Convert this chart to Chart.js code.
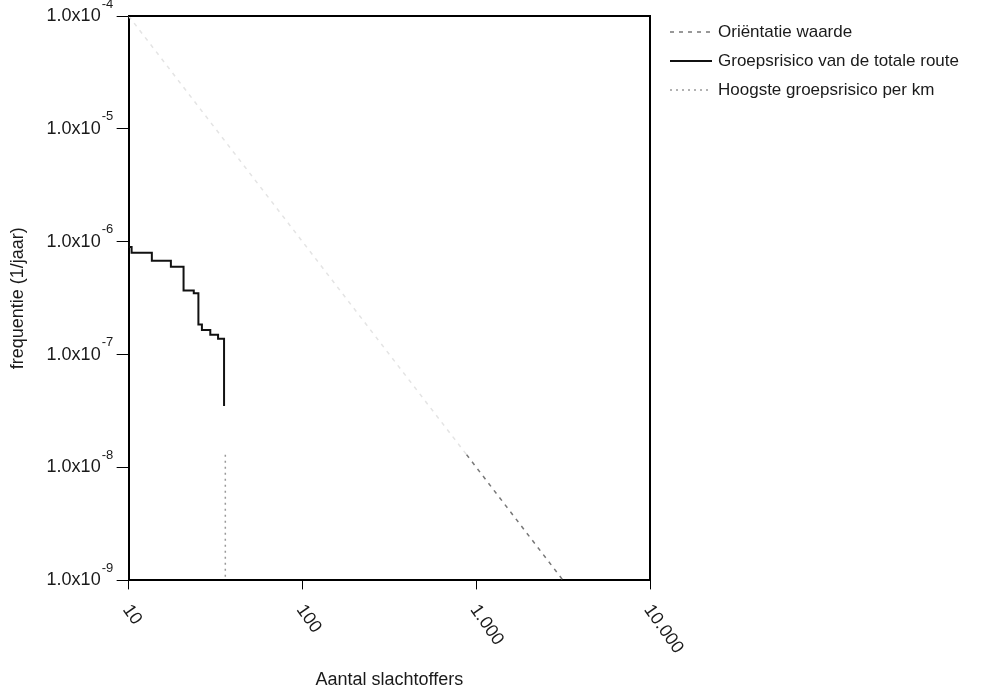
<!DOCTYPE html>
<html>
<head>
<meta charset="utf-8">
<script src="https://cdn.jsdelivr.net/npm/chart.js@4/dist/chart.umd.min.js"></script>
<style>
  html, body { margin: 0; padding: 0; background: #fff; }
  #wrap { width: 982px; height: 691px; }
</style>
</head>
<body>
<div id="wrap"><canvas id="frChart" width="982" height="691"></canvas></div>
<script>
// tick values and labels
var xTicks = [10, 100, 1000, 10000];
var xTickLabels = ['10', '100', '1.000', '10.000'];
var yTicks = [1e-9, 1e-8, 1e-7, 1e-6, 1e-5, 1e-4];

// Orientatie waarde (dashed line)
var orientN = [10, 880, 3162];
var orientF = [1e-4, 1.3e-8, 1e-9];

// Groepsrisico van de totale route (step curve)
var totaalN = [10, 10.4, 13.6, 17.5, 20.7, 23.7, 25.2, 26.4, 29.5, 32.7, 35.4, 35.4];
var totaalF = [1.0e-6, 9.0e-7, 8.0e-7, 6.8e-7, 6.0e-7, 3.7e-7, 3.5e-7, 1.85e-7, 1.65e-7, 1.5e-7, 1.38e-7, 3.5e-8];

// Hoogste groepsrisico per km (only the faint visible part)
var perKmN = [36, 36];
var perKmF = [1.3e-8, 1e-9];

function toPoints(xs, ys) {
    return xs.map(function(x, i) { return { x: x, y: ys[i] }; });
}

var textColor = '#1a1a1a';
Chart.defaults.font.family = "'Liberation Sans', Arial, sans-serif";
Chart.defaults.font.size = 18;
Chart.defaults.color = textColor;

var Y_TICK_LEN = 12;
var Y_TICK_PAD = 16;

// frame, exponents, rotated x labels and legend
var extrasPlugin = {
    id: 'extras',
    afterDraw: function(chart) {
        var ctx = chart.ctx;
        var area = chart.chartArea;
        var xs = chart.scales.x;
        var ys = chart.scales.y;

        ctx.save();
        ctx.strokeStyle = '#000';
        ctx.lineWidth = 2;
        ctx.beginPath();
        ctx.moveTo(area.left, area.top);
        ctx.lineTo(area.right, area.top);
        ctx.lineTo(area.right, area.bottom);
        ctx.stroke();

        // exponents of y labels
        ctx.fillStyle = textColor;
        ctx.font = "13px 'Liberation Sans', Arial, sans-serif";
        ctx.textAlign = 'left';
        ctx.textBaseline = 'middle';
        var labelRight = ys.right - Y_TICK_LEN - Y_TICK_PAD;
        ys.ticks.forEach(function(t) {
            var py = ys.getPixelForValue(t.value);
            var e = Math.round(Math.log10(t.value));
            ctx.fillText(String(e), labelRight + 1, py - 12);
        });

        // x labels, rotated clockwise
        ctx.font = "18px 'Liberation Sans', Arial, sans-serif";
        ctx.textBaseline = 'top';
        xTicks.forEach(function(v, i) {
            var px = xs.getPixelForValue(v);
            ctx.save();
            ctx.translate(px + 5, area.bottom + 21);
            ctx.rotate(55 * Math.PI / 180);
            ctx.fillText(xTickLabels[i], 0, 0);
            ctx.restore();
        });

        // legend
        ctx.font = "17px 'Liberation Sans', Arial, sans-serif";
        ctx.textBaseline = 'middle';
        chart.data.datasets.forEach(function(ds, i) {
            var ly = 32 + i * 29;
            ctx.save();
            ctx.strokeStyle = ds.legendColor || ds.borderColor;
            ctx.lineWidth = ds.borderWidth;
            ctx.setLineDash(ds.borderDash || []);
            ctx.beginPath();
            ctx.moveTo(670, ly);
            ctx.lineTo(712, ly);
            ctx.stroke();
            ctx.restore();
            ctx.fillStyle = textColor;
            ctx.fillText(ds.label, 718, ly);
        });
        ctx.restore();
    }
};

new Chart(document.getElementById('frChart').getContext('2d'), {
    type: 'line',
    data: {
        datasets: [
            {
                label: 'Oriëntatie waarde',
                data: toPoints(orientN, orientF),
                borderColor: '#777',
                legendColor: '#777',
                borderWidth: 1.5,
                borderDash: [4, 5],
                pointRadius: 0,
                segment: {
                    borderColor: function(c) { return c.p0DataIndex === 0 ? '#e4e4e4' : '#777'; }
                }
            },
            {
                label: 'Groepsrisico van de totale route',
                data: toPoints(totaalN, totaalF),
                borderColor: '#111',
                borderWidth: 2,
                stepped: 'after',
                pointRadius: 0
            },
            {
                label: 'Hoogste groepsrisico per km',
                data: toPoints(perKmN, perKmF),
                borderColor: '#999',
                borderWidth: 1.5,
                borderDash: [2, 4],
                pointRadius: 0
            }
        ]
    },
    options: {
        responsive: false,
        animation: false,
        layout: { padding: { left: 0, top: 0, right: 332, bottom: 0 } },
        plugins: {
            legend: { display: false },
            tooltip: { enabled: false }
        },
        scales: {
            x: {
                type: 'logarithmic',
                min: 10,
                max: 10000,
                afterBuildTicks: function(scale) {
                    scale.ticks = xTicks.map(function(v) { return { value: v }; });
                },
                ticks: { display: false },
                grid: { display: true, drawOnChartArea: false, drawTicks: true, tickLength: 9, color: '#000', lineWidth: 1 },
                border: { display: true, color: '#000', width: 2 },
                title: { display: true, text: 'Aantal slachtoffers', font: { size: 18 }, padding: { top: 80, bottom: 0 } }
            },
            y: {
                type: 'logarithmic',
                min: 1e-9,
                max: 1e-4,
                afterBuildTicks: function(scale) {
                    scale.ticks = yTicks.map(function(v) { return { value: v }; });
                },
                afterFit: function(scale) {
                    scale.paddingTop = 16;
                },
                ticks: {
                    padding: Y_TICK_PAD,
                    callback: function() { return '1.0x10'; }
                },
                grid: { display: true, drawOnChartArea: false, drawTicks: true, tickLength: Y_TICK_LEN, color: '#000', lineWidth: 1 },
                border: { display: true, color: '#000', width: 2 },
                title: { display: true, text: 'frequentie (1/jaar)', font: { size: 18 }, padding: { top: 7, bottom: 2 } }
            }
        }
    },
    plugins: [extrasPlugin]
});
</script>
</body>
</html>
